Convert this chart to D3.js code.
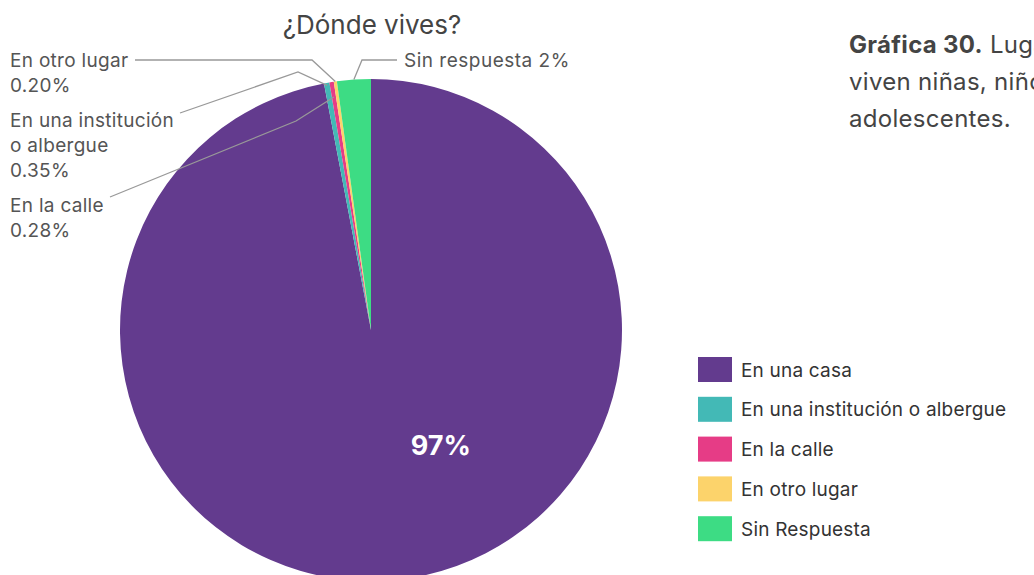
<!DOCTYPE html>
<html>
<head>
<meta charset="utf-8">
<script src="https://cdn.jsdelivr.net/npm/d3@7"></script>
<style>
  body { margin: 0; background: #fff; overflow: hidden; }
  svg { display: block; font-family: Inter, "Noto Sans", sans-serif; }
</style>
</head>
<body>
<svg id="chart" width="1034" height="575"></svg>
<script>
// data
const categories = ['En una casa', 'En una institución o albergue', 'En la calle', 'En otro lugar', 'Sin Respuesta'];
const values = [97.0, 0.35, 0.28, 0.20, 2.17];
const colors = ['#633b8e', '#43b9b6', '#e63c86', '#fcd36b', '#3ddc84'];
const calloutLines = [
  { idx: 3, text: ['En otro lugar', '0.20%'] },
  { idx: 1, text: ['En una institución', 'o albergue', '0.35%'] },
  { idx: 2, text: ['En la calle', '0.28%'] },
];
const noteLines = [['Gráfica 30.', ' Lugar donde'], ['', 'viven niñas, niños y'], ['', 'adolescentes.']];

const svg = d3.select('#chart');
const cx = 371, cy = 330, radius = 251;

const pie = d3.pie().sort(null).value((d) => d);
const arcs = pie(values);
const arc = d3.arc().innerRadius(0).outerRadius(radius);
const color = d3.scaleOrdinal().domain(categories).range(colors);

svg.append('text')
    .attr('x', cx + 1).attr('y', 34)
    .attr('text-anchor', 'middle')
    .attr('font-size', 26)
    .attr('fill', '#444')
    .text('¿Dónde vives?');

const g = svg.append('g').attr('transform', `translate(${cx}, ${cy})`);
g.selectAll('path.slice')
  .data(arcs)
  .enter().append('path')
    .attr('class', 'slice')
    .attr('d', arc)
    .attr('fill', (d, i) => color(categories[i]));

// big label inside the main slice
const inner = d3.arc().innerRadius(radius * 0.54).outerRadius(radius * 0.54);
const big = arcs[0];
const labelPos = inner.centroid({ startAngle: big.endAngle * 0.4265, endAngle: big.endAngle * 0.4265 });
g.append('text')
    .attr('x', labelPos[0]).attr('y', labelPos[1] + 9)
    .attr('text-anchor', 'middle')
    .attr('font-size', 27)
    .attr('font-weight', 700)
    .attr('fill', '#fff')
    .text(`${Math.round(values[0])}%`);

// leader lines for the small slices
const edge = (i, k) => d3.arc().innerRadius(radius * k).outerRadius(radius * k).centroid(arcs[i]);
const line = d3.line();
const lineColor = '#999';

// "En otro lugar"
const pOtro = edge(3, 1.0);
g.append('path')
    .attr('d', line([[-236, -270], [-59, -270], pOtro]))
    .attr('fill', 'none').attr('stroke', lineColor).attr('stroke-width', 1.3);
// "En una institución"
const pInst = edge(1, 0.99);
g.append('path')
    .attr('d', line([[-191, -217], [-73, -258], pInst]))
    .attr('fill', 'none').attr('stroke', lineColor).attr('stroke-width', 1.3);
// "En la calle"
const pCalle = edge(2, 0.94);
g.append('path')
    .attr('d', line([[-261, -133], [-75, -209], pCalle]))
    .attr('fill', 'none').attr('stroke', lineColor).attr('stroke-width', 1.3);
// "Sin respuesta"
const pSin = edge(4, 1.0);
g.append('path')
    .attr('d', line([[26, -270], [-9, -270], pSin]))
    .attr('fill', 'none').attr('stroke', lineColor).attr('stroke-width', 1.3);

svg.append('text')
    .attr('x', 404).attr('y', 67)
    .attr('font-size', 19).attr('letter-spacing', 0.5).attr('fill', '#555')
    .text(`Sin respuesta ${Math.round(values[4])}%`);

// left callout texts
const leftX = 10;
let y = 67;
calloutLines.forEach((c) => {
  c.text.forEach((t) => {
    svg.append('text')
        .attr('x', leftX).attr('y', y)
        .attr('font-size', 19).attr('letter-spacing', 0.3).attr('fill', '#555')
        .text(t);
    y += 25;
  });
  y += 10;
});

// legend
const legend = svg.append('g').attr('transform', 'translate(698, 357)');
const item = legend.selectAll('g')
  .data(categories)
  .enter().append('g')
    .attr('transform', (d, i) => `translate(0, ${i * 39.8})`);
item.append('rect')
    .attr('width', 34).attr('height', 25)
    .attr('fill', (d) => color(d));
item.append('text')
    .attr('x', 43).attr('y', 19.5)
    .attr('font-size', 19).attr('letter-spacing', 0.2).attr('fill', '#333')
    .text((d) => d);

// figure note on the right
const note = svg.append('text')
    .attr('x', 849).attr('font-size', 24).attr('letter-spacing', 0.3).attr('fill', '#444');
noteLines.forEach((ln, i) => {
  if (ln[0]) {
    note.append('tspan').attr('x', 849).attr('y', 53 + i * 37)
        .attr('font-weight', 700).text(ln[0]);
    note.append('tspan').text(ln[1]);
  } else {
    note.append('tspan').attr('x', 849).attr('y', 53 + i * 37).text(ln[1]);
  }
});
</script>
</body>
</html>
